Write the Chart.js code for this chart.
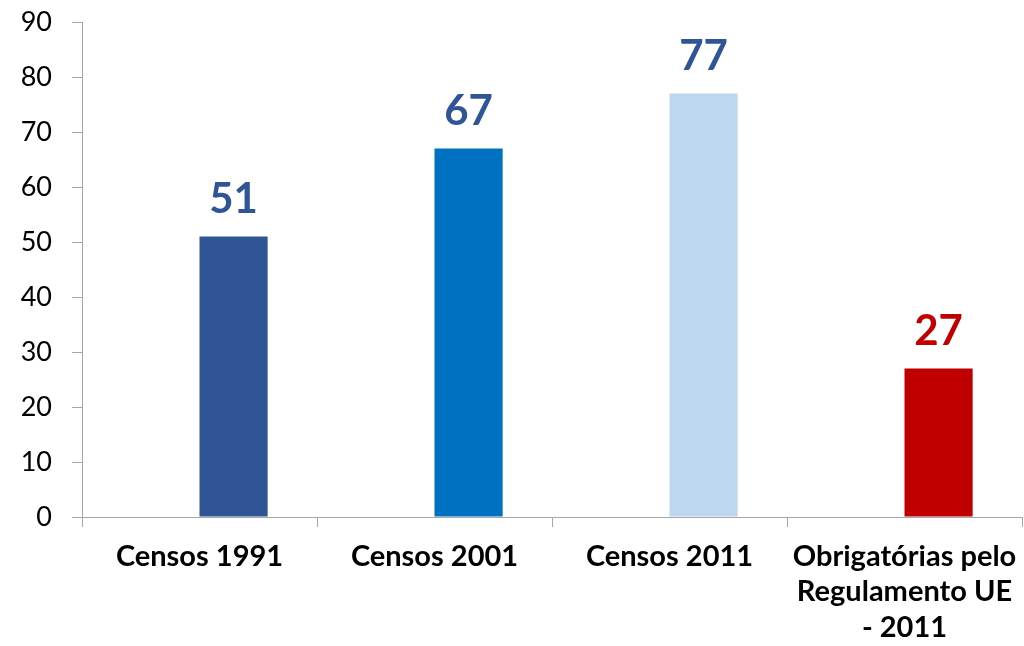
<!DOCTYPE html>
<html>
<head>
<meta charset="utf-8">
<script src="https://cdn.jsdelivr.net/npm/chart.js@4/dist/chart.umd.min.js"></script>
<style>
  html, body { margin: 0; padding: 0; background: #ffffff; }
  #wrap { width: 1024px; height: 646px; }
</style>
</head>
<body>
<div id="wrap"><canvas id="c" width="1024" height="646"></canvas></div>
<script>
const categories = [
  "Censos 1991",
  "Censos 2001",
  "Censos 2011",
  ["Obrigatórias pelo", "Regulamento UE", "- 2011"]
];
const values = [51, 67, 77, 27];
const emptySeries = [null, null, null, null];
const yTicks = [0, 10, 20, 30, 40, 50, 60, 70, 80, 90];

const barColors = ["#2F5597", "#0070C0", "#BDD7EE", "#C00000"];
const labelColors = ["#2F5597", "#2F5597", "#2F5597", "#C00000"];

const valueLabels = {
  id: 'valueLabels',
  afterDatasetsDraw(chart) {
    const ctx = chart.ctx;
    const meta = chart.getDatasetMeta(1);
    ctx.save();
    ctx.font = "bold 42px Lato";
    ctx.textAlign = "center";
    ctx.textBaseline = "alphabetic";
    meta.data.forEach((el, i) => {
      const v = chart.data.datasets[1].data[i];
      if (v == null) return;
      ctx.fillStyle = labelColors[i];
      ctx.fillText(String(v), el.x, el.y - 24);
    });
    ctx.restore();
  }
};

new Chart(document.getElementById('c'), {
  type: 'bar',
  data: {
    labels: categories,
    datasets: [
      { label: 'vazio', data: emptySeries, backgroundColor: '#ffffff' },
      { label: 'valores', data: values, backgroundColor: barColors, borderWidth: 0 }
    ]
  },
  options: {
    responsive: false,
    animation: false,
    devicePixelRatio: 1,
    layout: { padding: { top: 22, right: 2, left: 0, bottom: 0 } },
    categoryPercentage: 0.58,
    barPercentage: 1.0,
    plugins: {
      legend: { display: false },
      tooltip: { enabled: false }
    },
    scales: {
      x: {
        offset: true,
        grid: {
          offset: true,
          drawOnChartArea: false,
          drawTicks: true,
          tickLength: 10,
          color: '#A6A6A6',
          lineWidth: 1
        },
        border: { display: true, color: '#A6A6A6', width: 1 },
        ticks: {
          color: '#000000',
          font: { family: 'Lato', size: 29, weight: 'bold', lineHeight: 1.22 },
          padding: 12,
          maxRotation: 0,
          minRotation: 0,
          autoSkip: false
        },
        afterFit(scale) {
          scale.height = 129;
          scale.paddingLeft = 0;
          scale.paddingRight = 0;
        }
      },
      y: {
        min: 0,
        max: 90,
        afterBuildTicks(scale) {
          scale.ticks = yTicks.map(v => ({ value: v }));
        },
        grid: {
          drawOnChartArea: false,
          drawTicks: true,
          tickLength: 10,
          color: '#A6A6A6',
          lineWidth: 1
        },
        border: { display: true, color: '#A6A6A6', width: 1 },
        ticks: {
          color: '#000000',
          font: { family: 'Lato', size: 27 },
          padding: 20
        },
        afterFit(scale) {
          scale.width = 82;
          scale.paddingTop = 0;
          scale.paddingBottom = 0;
        }
      }
    }
  },
  plugins: [valueLabels]
});
</script>
</body>
</html>
